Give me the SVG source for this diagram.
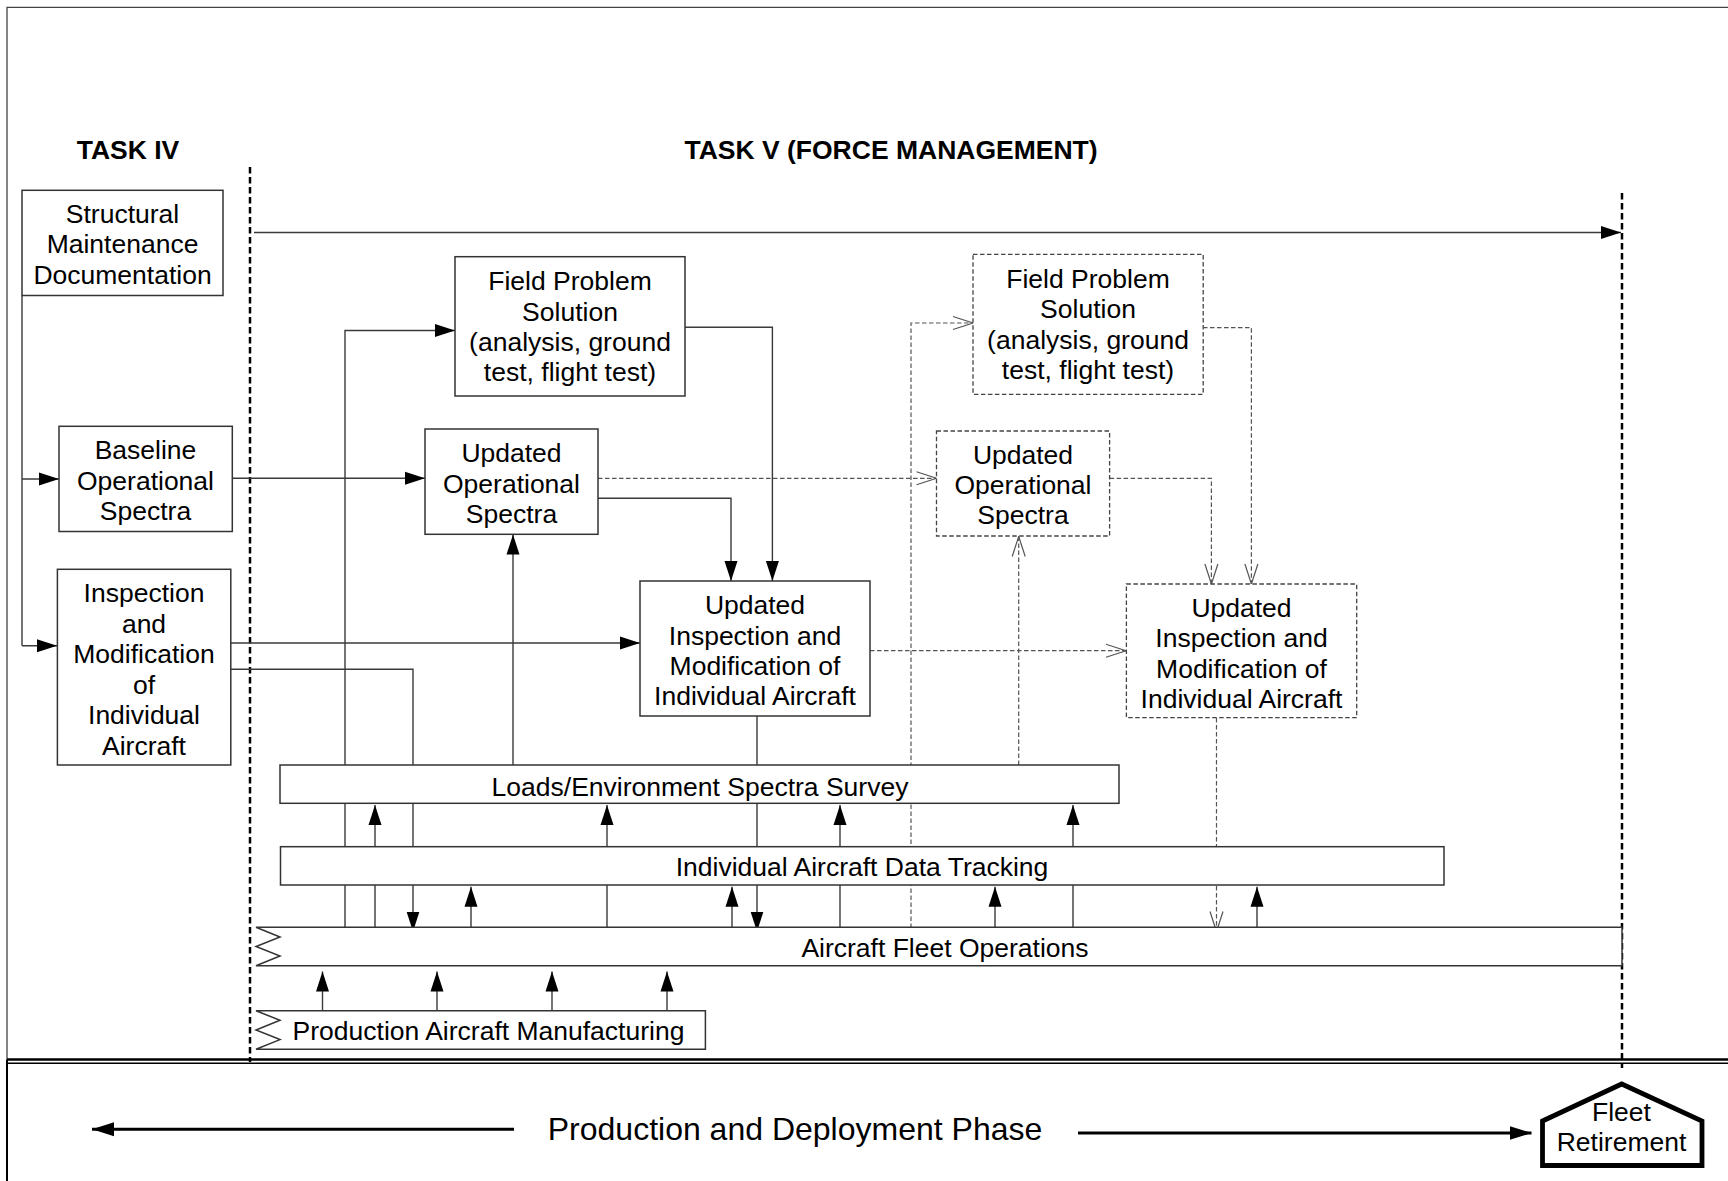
<svg xmlns="http://www.w3.org/2000/svg" width="1728" height="1181" viewBox="0 0 1728 1181">
<defs>
<marker id="af" markerWidth="22" markerHeight="16" refX="20" refY="7" orient="auto" markerUnits="userSpaceOnUse"><path d="M0,0.5 L20,7 L0,13.5 z" fill="#000"/></marker>
<marker id="ao" markerWidth="24" markerHeight="18" refX="21" refY="8" orient="auto" markerUnits="userSpaceOnUse"><path d="M1,1.5 L21,8 L1,14.5" fill="none" stroke="#555" stroke-width="1.2"/></marker>
<marker id="ab" markerWidth="24" markerHeight="16" refX="22" refY="7.5" orient="auto" markerUnits="userSpaceOnUse"><path d="M0,0.5 L22,7.5 L0,14.5 z" fill="#000"/></marker>
</defs>
<style>
text{font-family:"Liberation Sans",Arial,sans-serif;font-size:26.5px;fill:#000;text-anchor:middle}
.b{font-weight:bold}
.big{font-size:32px}
.c{fill:none;stroke:#3a3a3a;stroke-width:1.4}
.ca{fill:none;stroke:#3a3a3a;stroke-width:1.4;marker-end:url(#af)}
.d{fill:none;stroke:#555;stroke-width:1.2;stroke-dasharray:4.5 2.5;marker-end:url(#ao)}
.n{fill:#fff;stroke:#333;stroke-width:1.5}
.nd{fill:#fff;stroke:#444;stroke-width:1.3;stroke-dasharray:4.5 2.5}
.sep{fill:none;stroke:#000;stroke-width:2.5;stroke-dasharray:6.5 3.5}
</style>
<rect width="1728" height="1181" fill="#fff"/>
<g id="frame">
<path d="M1728,7.3 H7 V1059.5" fill="none" stroke="#444" stroke-width="1.3"/>
<path d="M7,1059.5 H1728" stroke="#000" stroke-width="2.4" fill="none"/>
<path d="M7,1063.2 H1728" stroke="#000" stroke-width="1.4" fill="none"/>
<path d="M7,1059.5 V1181" stroke="#000" stroke-width="2" fill="none"/>
<path d="M250,167 V1062" class="sep"/>
<path d="M1622,193 V1068" class="sep"/>
</g>
<g id="labels">
<text class="b" x="128" y="158.5">TASK IV</text>
<text class="b" x="891" y="158.5">TASK V (FORCE MANAGEMENT)</text>
</g>
<g id="connectors">
<path class="ca" d="M254,232.5 H1621"/>
<path class="c" d="M22,295.5 V645.7"/>
<path class="ca" d="M22,479 H59"/>
<path class="ca" d="M22,645.7 H57"/>
<path class="ca" d="M232,478.3 H425"/>
<path class="ca" d="M231,643 H640"/>
<path class="ca" d="M231,669.3 H413 V931.5"/>
<path class="ca" d="M345,928 V330.5 H455"/>
<path class="ca" d="M513,765 V534.5"/>
<path class="ca" d="M598,498.3 H731 V581"/>
<path class="ca" d="M685,327.3 H772.4 V581"/>
<path class="ca" d="M757,716 V931.5"/>
<path class="ca" d="M375,930 V805"/>
<path class="ca" d="M607,930 V805"/>
<path class="ca" d="M840,930 V805"/>
<path class="ca" d="M1073,930 V805"/>
<path class="ca" d="M471,930 V886.7"/>
<path class="ca" d="M732,930 V886.7"/>
<path class="ca" d="M995,930 V886.7"/>
<path class="ca" d="M1257,930 V886.7"/>
<path class="ca" d="M322.5,1011 V971.5"/>
<path class="ca" d="M437,1011 V971.5"/>
<path class="ca" d="M552,1011 V971.5"/>
<path class="ca" d="M667,1011 V971.5"/>
<path class="d" d="M911,928 V323 H973"/>
<path class="d" d="M598,478.3 H936.5"/>
<path class="d" d="M870,650.7 H1126"/>
<path class="d" d="M1018.7,765 V536.5"/>
<path class="d" d="M1109.6,478.3 H1211.4 V584"/>
<path class="d" d="M1203,327.7 H1251.4 V584"/>
<path class="d" d="M1216.5,718 V931.5"/>
<path d="M514,1129.3 H92" fill="none" stroke="#000" stroke-width="3" marker-end="url(#ab)"/>
<path d="M1078,1133 H1531.5" fill="none" stroke="#000" stroke-width="3" marker-end="url(#ab)"/>
</g>
<g id="structural-maintenance">
<rect class="n" x="22" y="190.3" width="201" height="105.2"/>
<text x="122.5" y="222.5">Structural</text>
<text x="122.5" y="253">Maintenance</text>
<text x="122.5" y="283.5">Documentation</text>
</g>
<g id="baseline-spectra">
<rect class="n" x="59" y="426.3" width="173.3" height="105.2"/>
<text x="145.5" y="459">Baseline</text>
<text x="145.5" y="489.5">Operational</text>
<text x="145.5" y="520">Spectra</text>
</g>
<g id="inspection-modification">
<rect class="n" x="57.4" y="569.3" width="173.4" height="195.7"/>
<text x="144" y="602">Inspection</text>
<text x="144" y="632.5">and</text>
<text x="144" y="663">Modification</text>
<text x="144" y="693.5">of</text>
<text x="144" y="724">Individual</text>
<text x="144" y="754.5">Aircraft</text>
</g>
<g id="field-problem-1">
<rect class="n" x="455" y="256.7" width="230" height="139.3"/>
<text x="570" y="290">Field Problem</text>
<text x="570" y="320.5">Solution</text>
<text x="570" y="351">(analysis, ground</text>
<text x="570" y="381">test, flight test)</text>
</g>
<g id="updated-spectra-1">
<rect class="n" x="425" y="429" width="173" height="105.3"/>
<text x="511.5" y="462">Updated</text>
<text x="511.5" y="492.5">Operational</text>
<text x="511.5" y="523">Spectra</text>
</g>
<g id="updated-inspection-1">
<rect class="n" x="640" y="581" width="230" height="135"/>
<text x="755" y="614">Updated</text>
<text x="755" y="644.5">Inspection and</text>
<text x="755" y="675">Modification of</text>
<text x="755" y="705">Individual Aircraft</text>
</g>
<g id="field-problem-2">
<rect class="nd" x="973" y="254.3" width="230.2" height="140"/>
<text x="1088" y="287.5">Field Problem</text>
<text x="1088" y="318">Solution</text>
<text x="1088" y="348.5">(analysis, ground</text>
<text x="1088" y="379">test, flight test)</text>
</g>
<g id="updated-spectra-2">
<rect class="nd" x="936.5" y="431" width="173.1" height="105"/>
<text x="1023" y="463.5">Updated</text>
<text x="1023" y="494">Operational</text>
<text x="1023" y="524">Spectra</text>
</g>
<g id="updated-inspection-2">
<rect class="nd" x="1126.4" y="584" width="230.3" height="133.7"/>
<text x="1241.5" y="617">Updated</text>
<text x="1241.5" y="647">Inspection and</text>
<text x="1241.5" y="677.5">Modification of</text>
<text x="1241.5" y="707.5">Individual Aircraft</text>
</g>
<g id="loads-survey">
<rect class="n" x="280" y="765" width="839" height="38.3"/>
<text x="700" y="796">Loads/Environment Spectra Survey</text>
</g>
<g id="data-tracking">
<rect class="n" x="280.5" y="846.7" width="1163.5" height="38.3"/>
<text x="862" y="875.5">Individual Aircraft Data Tracking</text>
</g>
<g id="fleet-operations">
<path class="n" d="M1622,927.3 H256 L280,937 L256,946.5 L280,956 L256,965.7 H1622 Z"/>
<text x="945" y="956.5">Aircraft Fleet Operations</text>
</g>
<g id="production-manufacturing">
<path class="n" d="M705.4,1010.7 H256 L280,1020.3 L256,1030 L280,1039.6 L256,1049.3 H705.4 Z"/>
<text x="488.5" y="1039.5">Production Aircraft Manufacturing</text>
</g>
<g id="phase">
<text class="big" x="795" y="1140">Production and Deployment Phase</text>
</g>
<g id="fleet-retirement">
<path d="M1542.5,1121 L1621.7,1084 L1702,1121 V1165.5 H1542.5 Z" fill="#fff" stroke="#000" stroke-width="4.8" stroke-linejoin="miter"/>
<text x="1621.5" y="1120.5">Fleet</text>
<text x="1621.5" y="1151">Retirement</text>
</g>
</svg>
